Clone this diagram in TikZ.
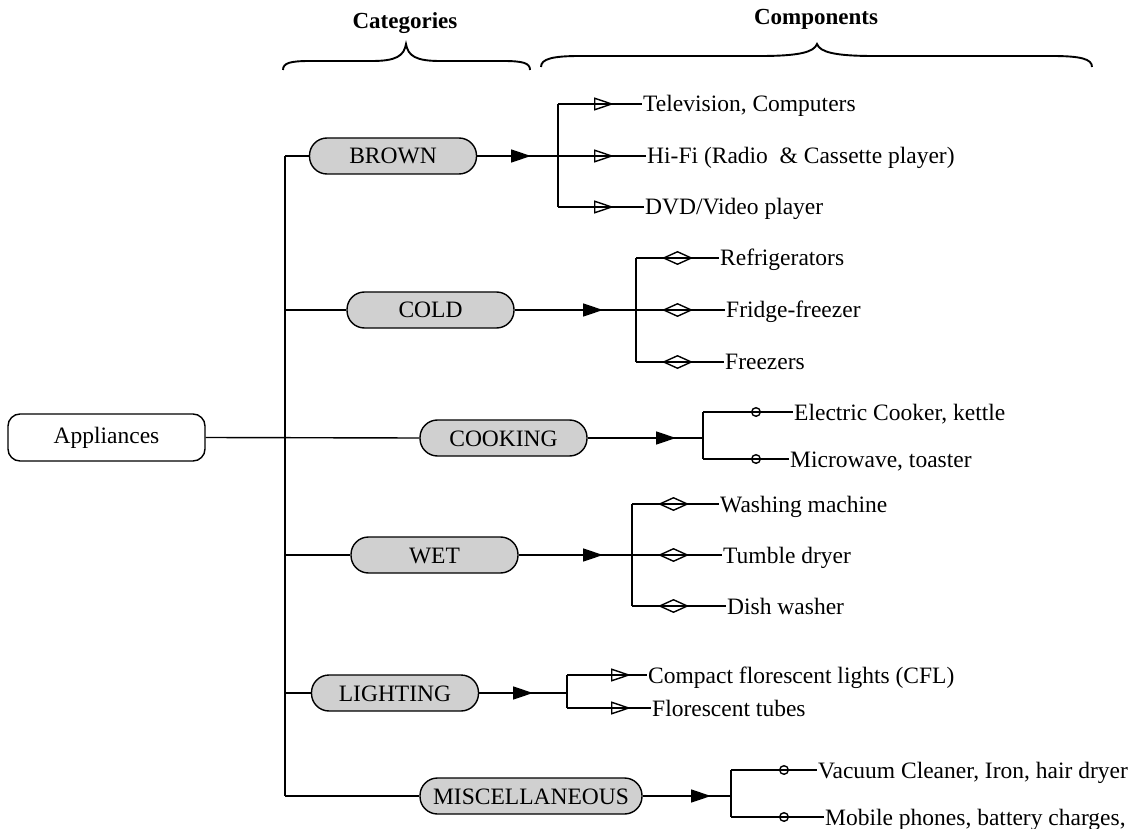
\documentclass[tikz,border=0pt]{standalone}
\usepackage{fontspec}
\setmainfont{Liberation Serif}
\usetikzlibrary{arrows.meta}
\definecolor{catfill}{RGB}{208,208,208}
\begin{document}
\begin{tikzpicture}[x=1pt,y=-1pt,
  every node/.style={font=\fontsize{23.5}{28}\selectfont},
  line/.style={line width=1.4pt},
  cat/.style={draw, line width=1.4pt, fill=catfill, rounded corners=17.5pt,
    minimum height=36pt, minimum width=167pt, inner sep=0pt, text height=16pt, text depth=0pt},
  root/.style={draw, line width=1.4pt, fill=white, rounded corners=12pt,
    minimum height=47pt, minimum width=197pt, text height=16pt, text depth=4pt},
  item/.style={anchor=west, inner sep=1pt, text height=16pt, text depth=0pt},
  head/.style={font=\fontsize{23}{28}\selectfont\bfseries},
  brace/.style={line width=1.9pt},
  fa/.style={line, -{Triangle[length=20pt,width=13pt]}},
  tri/.style={line, -{Triangle[open,length=20pt,width=13pt]}},
  dia/.style={line, -{Diamond[open,length=31pt,width=14pt]}},
  circ/.style={line, -{Circle[open,length=10pt]}},
  stub/.style={line width=2.8pt}
]
\useasboundingbox (0,0) rectangle (1136,829);

% headers
\node[head] (hcat) at (405,23) {Categories};
\node[head] (hcomp) at (816,19) {Components};
\draw[brace] (283,70) .. controls (283,63) and (290,61) .. (310,61) -- (372,61)
  .. controls (396,61) and (404,56) .. (406,44)
  .. controls (408,56) and (416,61) .. (440,61) -- (503,61)
  .. controls (523,61) and (530,63) .. (530,70);
\draw[brace] (541,67) .. controls (541,59) and (552,56) .. (580,56) -- (760,56)
  .. controls (800,56) and (814,52) .. (817,44)
  .. controls (820,52) and (834,56) .. (874,56) -- (1052,56)
  .. controls (1081,56) and (1092,59) .. (1092,67);

% root and categories
\node[root] (app) at (106.5,437.5) {Appliances};
\node[cat] (brown) at (393,156) {BROWN};
\node[cat] (cold) at (430.5,310) {COLD};
\node[cat] (cooking) at (503.5,438) {COOKING};
\node[cat] (wet) at (434.5,555) {WET};
\node[cat] (lighting) at (395,693) {LIGHTING};
\node[cat, minimum width=222pt] (misc) at (531,796) {MISCELLANEOUS};

% trunk
\coordinate (tB) at (285,156);
\coordinate (tC) at (285,310);
\coordinate (tW) at (285,555);
\coordinate (tL) at (285,693);
\coordinate (tM) at (285,796);
\draw[line] (tB) -- (tM);
\draw[line] (app.east) -- (cooking.west);
\draw[line] (tB) -- (brown.west);
\draw[line] (tC) -- (cold.west);
\draw[line] (tW) -- (wet.west);
\draw[line] (tL) -- (lighting.west);
\draw[line] (tM) -- (misc.west);

% items
\node[item] (b1) at (642,104) {Television, Computers};
\node[item] (b2) at (646,156) {Hi-Fi (Radio\ \ \& Cassette player)};
\node[item] (b3) at (644,207) {DVD/Video player};
\node[item] (c1) at (719,258) {Refrigerators};
\node[item] (c2) at (725,310) {Fridge-freezer};
\node[item] (c3) at (724,362) {Freezers};
\node[item] (k1) at (793,412) {Electric Cooker, kettle};
\node[item] (k2) at (789,459) {Microwave, toaster};
\node[item] (w1) at (719,504) {Washing machine};
\node[item] (w2) at (722,555) {Tumble dryer};
\node[item] (w3) at (726,606) {Dish washer};
\node[item] (l1) at (647,675) {Compact florescent lights (CFL)};
\node[item] (l2) at (651,708) {Florescent tubes};
\node[item] (m1) at (817,770) {Vacuum Cleaner, Iron, hair dryer};
\node[item] (m2) at (824,817) {Mobile phones, battery charges,};

% BROWN branch
\coordinate (jB) at (558,156);
\coordinate (jB1) at (558,104);
\coordinate (jB3) at (558,207);
\coordinate (aB) at (531,156);
\coordinate (mB1) at (614,104);
\coordinate (mB2) at (614,156);
\coordinate (mB3) at (614,207);
\draw[line] (brown.east) -- (jB);
\draw[fa] (brown.east) -- (aB);
\draw[line] (jB1) -- (jB3);
\draw[line] (jB1) -- (b1.west);
\draw[line] (jB) -- (b2.west);
\draw[line] (jB3) -- (b3.west);
\draw[tri] (jB1) -- (mB1);
\draw[tri] (jB) -- (mB2);
\draw[tri] (jB3) -- (mB3);

% COLD branch
\coordinate (jC) at (636,310);
\coordinate (jC1) at (636,258);
\coordinate (jC3) at (636,362);
\coordinate (aC) at (603,310);
\coordinate (mC1) at (693,258);
\coordinate (mC2) at (693,310);
\coordinate (mC3) at (693,362);
\draw[line] (cold.east) -- (jC);
\draw[fa] (cold.east) -- (aC);
\draw[line] (jC1) -- (jC3);
\draw[line] (jC1) -- (c1.west);
\draw[line] (jC) -- (c2.west);
\draw[line] (jC3) -- (c3.west);
\draw[dia] (jC1) -- (mC1);
\draw[dia] (jC) -- (mC2);
\draw[dia] (jC3) -- (mC3);

% COOKING branch
\coordinate (jK) at (703,438);
\coordinate (jK1) at (703,412);
\coordinate (jK2) at (703,459);
\coordinate (aK) at (676,438);
\coordinate (mK1) at (761,412);
\coordinate (mK2) at (761,459);
\draw[line] (cooking.east) -- (jK);
\draw[fa] (cooking.east) -- (aK);
\draw[line] (jK1) -- (jK2);
\draw[line] (jK1) -- (k1.west);
\draw[line] (jK2) -- (k2.west);
\draw[circ] (jK1) -- (mK1);
\draw[circ] (jK2) -- (mK2);
\draw[stub] ([xshift=-28pt]mK1) -- ([xshift=-10pt]mK1);
\draw[stub] ([xshift=-28pt]mK2) -- ([xshift=-10pt]mK2);

% WET branch
\coordinate (jW) at (632,555);
\coordinate (jW1) at (632,504);
\coordinate (jW3) at (632,606);
\coordinate (aW) at (603,555);
\coordinate (mW1) at (689,504);
\coordinate (mW2) at (689,555);
\coordinate (mW3) at (689,606);
\draw[line] (wet.east) -- (jW);
\draw[fa] (wet.east) -- (aW);
\draw[line] (jW1) -- (jW3);
\draw[line] (jW1) -- (w1.west);
\draw[line] (jW) -- (w2.west);
\draw[line] (jW3) -- (w3.west);
\draw[dia] (jW1) -- (mW1);
\draw[dia] (jW) -- (mW2);
\draw[dia] (jW3) -- (mW3);

% LIGHTING branch
\coordinate (jL) at (567,693);
\coordinate (jL1) at (567,675);
\coordinate (jL2) at (567,708);
\coordinate (aL) at (533,693);
\coordinate (mL1) at (631,675);
\coordinate (mL2) at (631,708);
\draw[line] (lighting.east) -- (jL);
\draw[fa] (lighting.east) -- (aL);
\draw[line] (jL1) -- (jL2);
\draw[line] (jL1) -- (l1.west);
\draw[line] (jL2) -- (l2.west);
\draw[tri] (jL1) -- (mL1);
\draw[tri] (jL2) -- (mL2);

% MISCELLANEOUS branch
\coordinate (jM) at (731,796);
\coordinate (jM1) at (731,770);
\coordinate (jM2) at (731,817);
\coordinate (aM) at (711,796);
\coordinate (mM1) at (789,770);
\coordinate (mM2) at (789,817);
\draw[line] (misc.east) -- (jM);
\draw[fa] (misc.east) -- (aM);
\draw[line] (jM1) -- (jM2);
\draw[line] (jM1) -- (m1.west);
\draw[line] (jM2) -- (m2.west);
\draw[circ] (jM1) -- (mM1);
\draw[circ] (jM2) -- (mM2);
\draw[stub] ([xshift=-28pt]mM1) -- ([xshift=-10pt]mM1);
\draw[stub] ([xshift=-28pt]mM2) -- ([xshift=-10pt]mM2);
\end{tikzpicture}
\end{document}
